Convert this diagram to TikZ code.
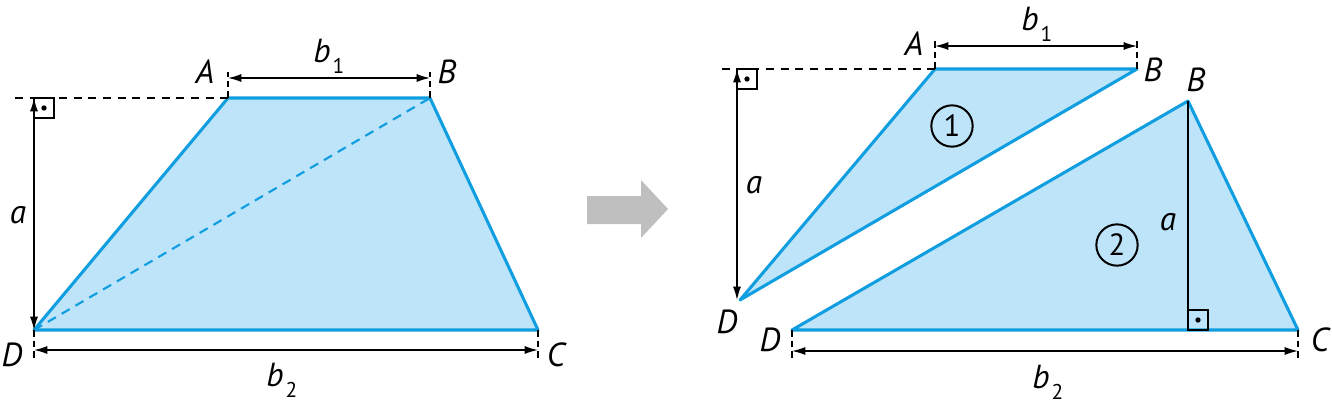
\documentclass[tikz,border=0pt]{standalone}
\usepackage{fontspec}
\setmainfont{PT Sans}
\usetikzlibrary{arrows.meta,calc}

\definecolor{edgeblue}{RGB}{16,158,224}
\definecolor{fillblue}{RGB}{189,228,249}
\definecolor{arrowgray}{RGB}{191,191,191}

\tikzset{
  face/.style={draw=edgeblue, fill=fillblue, line width=2.3pt, line join=round},
  dimline/.style={{Latex[length=10pt,width=6pt]}-{Latex[length=10pt,width=6pt]}, line width=1pt},
  tickline/.style={dash pattern=on 5pt off 3pt, line width=1pt},
  helpline/.style={dash pattern=on 6pt off 5pt, line width=1pt},
  lbl/.style={font=\fontsize{25}{30}\selectfont\itshape, inner sep=0pt},
  numcircle/.style={draw, circle, line width=1.5pt, minimum size=31pt, inner sep=0pt, font=\fontsize{23}{26}\selectfont}
}
\newcommand{\anglebox}[1]{%
  \draw[line width=1.1pt] #1 rectangle ++(20,20);
  \fill #1 ++(10,10) circle (2pt);}
\newcommand{\sublow}[1]{\kern1.5pt\raisebox{-8.5pt}{\upshape\fontsize{16}{18}\selectfont #1}}

\begin{document}
\begin{tikzpicture}[x=0.75pt,y=0.75pt,yscale=-1,xscale=1]
  \useasboundingbox (0,0) rectangle (1332,404);

  % left trapezoid
  \coordinate (lA) at (228,98);
  \coordinate (lB) at (430,98);
  \coordinate (lC) at (538,330);
  \coordinate (lD) at (34,330);
  \draw[face] (lA) -- (lB) -- (lC) -- (lD) -- cycle;
  \draw[draw=edgeblue, line width=1.6pt, dash pattern=on 7pt off 5pt] (lD) -- (lB);

  % left height and widths
  \coordinate (lH) at (15,98);
  \draw[helpline] (lH) -- (lA);
  \draw[dimline] (lD |- lA) -- (lD);
  \anglebox{(lD |- lA)}
  \draw[tickline] (lA) -- ++(0,-26);
  \draw[tickline] (lB) -- ++(0,-26);
  \draw[dimline] ($(lA)+(0,-20)$) -- ($(lB)+(0,-20)$);
  \draw[tickline] (lD) -- ++(0,30);
  \draw[tickline] (lC) -- ++(0,30);
  \draw[dimline] ($(lD)+(0,20)$) -- ($(lC)+(0,20)$);

  % left labels
  \node[lbl] (labA) at (205,72) {A};
  \node[lbl] (labB) at (447,72) {B};
  \node[lbl] (labC) at (556,355) {C};
  \node[lbl] (labD) at (12,355) {D};
  \node[lbl] (laba) at (18,215) {a};
  \node[lbl, anchor=base west] (labbo) at (313,62) {b\sublow{1}};
  \node[lbl, anchor=base west] (labbt) at (266,386) {b\sublow{2}};

  % gray arrow
  \fill[arrowgray] (587,196) -- (641,196) -- (641,180) -- (668,209) -- (641,238) -- (641,224) -- (587,224) -- cycle;

  % right triangles
  \coordinate (rA) at (935,69);
  \coordinate (rB) at (1137,69);
  \coordinate (rD) at (740,300);
  \coordinate (sB) at (1188,101);
  \coordinate (sC) at (1298,330);
  \coordinate (sD) at (792,330);
  \draw[face] (rA) -- (rB) -- (rD) -- cycle;
  \draw[face] (sB) -- (sC) -- (sD) -- cycle;

  % right height and widths
  \coordinate (rH) at (722,69);
  \draw[helpline] (rH) -- (rA);
  \draw[dimline] (737,69) -- (737,300);
  \anglebox{(737,69)}
  \draw[tickline] (rA) -- ++(0,-30);
  \draw[tickline] (rB) -- ++(0,-30);
  \draw[dimline] ($(rA)+(0,-23)$) -- ($(rB)+(0,-23)$);
  \draw[line width=1.2pt] (sB) -- (sB |- sC);
  \anglebox{($(sB |- sC)+(0,-20)$)}
  \draw[tickline] (sD) -- ++(0,31);
  \draw[tickline] (sC) -- ++(0,31);
  \draw[dimline] ($(sD)+(0,21)$) -- ($(sC)+(0,21)$);

  % right labels
  \node[lbl] (labrA) at (914,44) {A};
  \node[lbl] (labrB) at (1153,70) {B};
  \node[lbl] (labsB) at (1196,80) {B};
  \node[lbl] (labrD) at (727,322) {D};
  \node[lbl] (labsD) at (770,340) {D};
  \node[lbl] (labsC) at (1320,340) {C};
  \node[lbl] (labra) at (754,185) {a};
  \node[lbl] (labsa) at (1168,222) {a};
  \node[lbl, anchor=base west] (labrbo) at (1021,30) {b\sublow{1}};
  \node[lbl, anchor=base west] (labsbt) at (1032,388) {b\sublow{2}};
  \node[numcircle] (one) at (952,126) {1};
  \node[numcircle] (two) at (1117,245) {2};
\end{tikzpicture}
\end{document}
